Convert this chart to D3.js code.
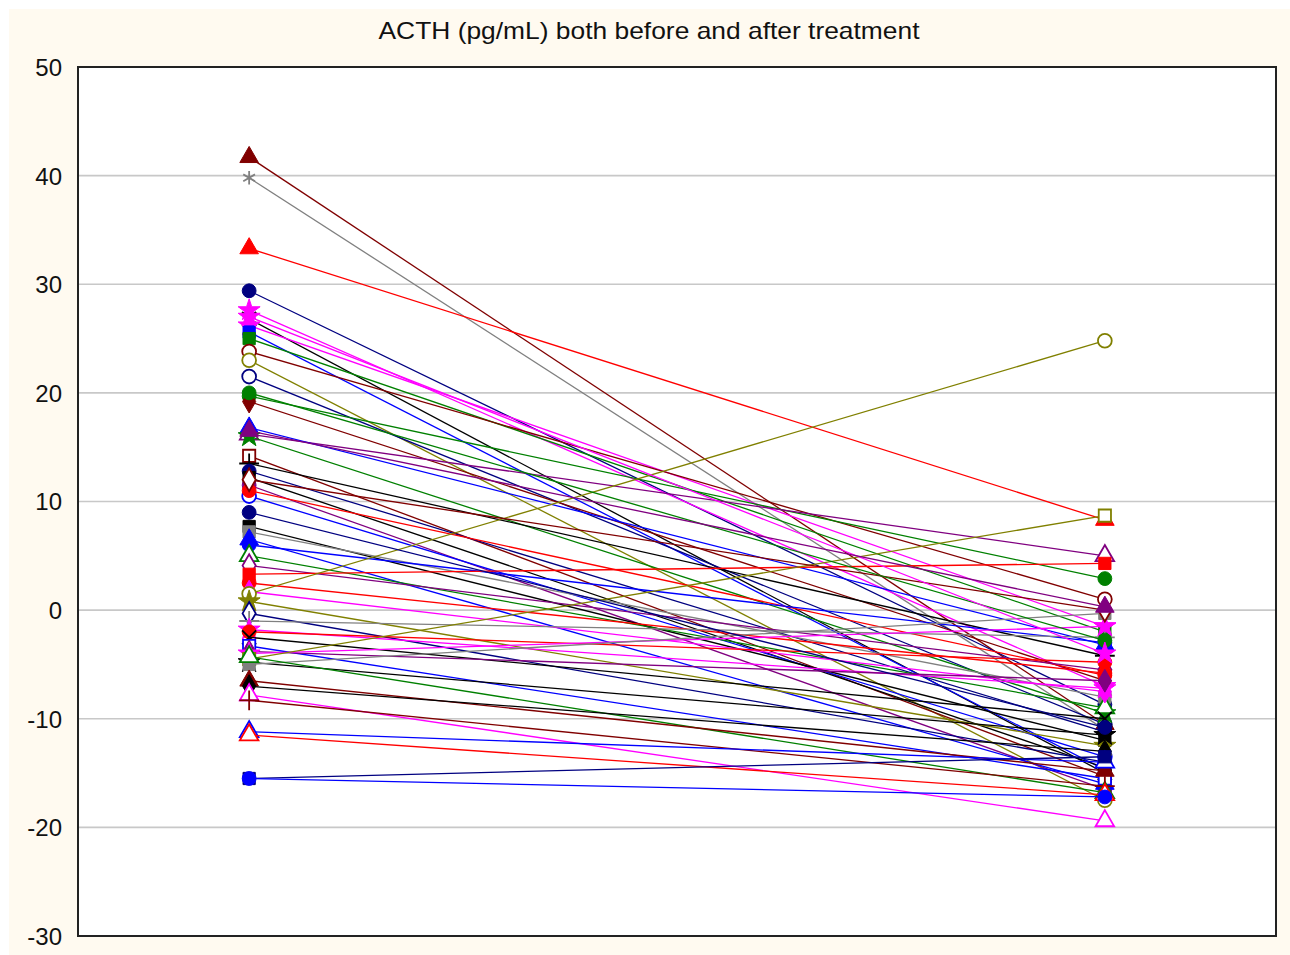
<!DOCTYPE html>
<html>
<head>
<meta charset="utf-8">
<script src="https://cdn.jsdelivr.net/npm/d3@7/dist/d3.min.js"></script>
<style>
  html, body { margin: 0; padding: 0; background: #ffffff; }
  svg { display: block; }
</style>
</head>
<body>
<svg id="chart" width="1290" height="955"></svg>
<script>
// ---------------- DATA ----------------
const title = "ACTH (pg/mL) both before and after treatment";
const categories = ["Before", "After"];
const yTicks = [-30, -20, -10, 0, 10, 20, 30, 40, 50];

// ACTH change per subject (before, after)
const before = [41.7, 39.8, 33.3, 29.4, 27.6, 26.8, 26.2, 25.6, 25.0, 23.8,
                23.0, 21.5, 19.7, 19.2, 16.2, 16.8, 16.0, 14.2, 13.5, 12.8,
                12.2, 11.5, 10.5, 11.0, 7.7, 7.2, 6.5, 6.0, 5.0, 4.1,
                3.3, 2.5, 1.7, 1.5, 0.8, -0.3, -1.0, -1.8, -2.0, -2.5,
                -3.3, -3.8, -4.0, -4.5, -4.8, -5.0, -4.3, -6.5, -7.0, -7.8,
                -8.3, -11.2, -11.5, -15.5, -15.5, 12.0, 20.0, 9.0, 27.0, 16.5];
const after  = [-10.5, -11.0, 8.3, -8.7, -7.0, -15.0, -1.5, -14.7, -2.0, 1.0,
                -17.5, -10.5, 2.9, -6.5, 5.0, -3.2, -9.5, -15.3, -4.2, -11.2,
                -14.5, -16.5, -13.5, -6.0, -12.0, -8.0, -16.0, -3.0, -9.0, -5.5,
                4.3, -5.8, -7.5, 24.8, -12.5, -14.0, -2.5, -7.2, -4.8, -10.0,
                -15.5, -6.5, -1.5, 8.7, -11.5, -0.3, -16.8, -14.8, -13.0, -19.4,
                -16.2, -14.0, -17.0, -13.5, -17.2, 0.0, -2.8, -10.8, -4.0, 0.3];

// ---------------- STYLE ----------------
const palette = ["#800000", "#808080", "#ff0000", "#000080", "#ff00ff", "#000000", "#ff00ff", "#0000ff", "#008000", "#800000",
                 "#808000", "#000080", "#008000", "#800000", "#800080", "#0000ff", "#008000", "#800000", "#000000", "#000080",
                 "#000000", "#800080", "#0000ff", "#ff0000", "#000000", "#808080", "#0000ff", "#0000ff", "#008000", "#800080",
                 "#ff0000", "#ff0000", "#ff00ff", "#808000", "#808000", "#000080", "#808080", "#ff00ff", "#ff0000", "#000000",
                 "#0000ff", "#800080", "#ff00ff", "#808000", "#000000", "#808080", "#008000", "#800000", "#000000", "#ff00ff",
                 "#800000", "#0000ff", "#ff0000", "#000080", "#0000ff", "#800000", "#008000", "#000080", "#ff00ff", "#800080"];
const shapeNames = ["triangle", "asterisk", "triangle", "circle", "star", "times", "star", "square", "square", "circleO",
                    "circleO", "circleO", "circle", "diamond", "triangleO", "triangle", "star", "squareO", "plus", "circle",
                    "square", "circle", "circleO", "circle", "square", "square", "triangle", "circle", "triangleO", "diamondO",
                    "square", "circle", "diamond", "circleO", "star", "diamondO", "plus", "star", "circle", "times",
                    "squareO", "diamond", "star", "squareO", "star", "square", "triangleO", "triangle", "diamond", "triangleO",
                    "plus", "triangleO", "triangleO", "square", "circle", "diamondO", "circle", "circle", "star", "triangle"];

const W = 1290, H = 955;
const plot = { left: 78, right: 1276, top: 67, bottom: 936 };

const svg = d3.select("#chart");

// background panel
svg.append("rect").attr("x", 9).attr("y", 9).attr("width", W - 9).attr("height", H - 9)
   .attr("fill", "#fffaf0");
svg.append("rect").attr("x", plot.left).attr("y", plot.top)
   .attr("width", plot.right - plot.left).attr("height", plot.bottom - plot.top)
   .attr("fill", "#ffffff");

const x = d3.scalePoint().domain(categories).range([plot.left, plot.right]).padding(0.2);
const y = d3.scaleLinear().domain([-30, 50]).range([plot.bottom, plot.top]);

// gridlines
svg.append("g").selectAll("line").data(yTicks.filter(t => t > -30 && t < 50)).join("line")
   .attr("x1", plot.left).attr("x2", plot.right)
   .attr("y1", d => y(d)).attr("y2", d => y(d))
   .attr("stroke", "#c8c8c8").attr("stroke-width", 1.6);

// y axis labels
const yAxis = d3.axisLeft(y).tickValues(yTicks).tickSize(0).tickPadding(16).tickFormat(d => String(d));
const ag = svg.append("g").attr("transform", `translate(${plot.left},0)`).call(yAxis);
ag.select(".domain").remove();
ag.selectAll("text").attr("font-family", "Liberation Sans, Arial, sans-serif")
  .attr("font-size", 24).attr("fill", "#111").attr("dy", "0.35em");

// title
svg.append("text").attr("x", 649).attr("y", 39).attr("text-anchor", "middle")
   .attr("font-family", "Liberation Sans, Arial, sans-serif").attr("font-size", 24)
   .attr("fill", "#111").attr("textLength", 541).attr("lengthAdjust", "spacingAndGlyphs")
   .text(title);

// marker generator
const symMap = {
  triangle: [d3.symbolTriangle, true], triangleO: [d3.symbolTriangle, false],
  circle: [d3.symbolCircle, true], circleO: [d3.symbolCircle, false],
  square: [d3.symbolSquare, true], squareO: [d3.symbolSquare, false],
  diamond: [d3.symbolDiamond, true], diamondO: [d3.symbolDiamond, false],
  star: [d3.symbolStar, true], asterisk: [d3.symbolAsterisk, false],
  plus: [d3.symbolPlus, false], times: [d3.symbolTimes, false]
};

const subjects = before.map((b, i) => ({ b, a: after[i], c: palette[i], s: shapeNames[i] }));

const g = svg.append("g");
subjects.forEach(d => {
  const sg = g.append("g");
  sg.append("line")
    .attr("x1", x("Before")).attr("y1", y(d.b))
    .attr("x2", x("After")).attr("y2", y(d.a))
    .attr("stroke", d.c).attr("stroke-width", 1.3);
  const [type, filled] = symMap[d.s];
  const size = (type === d3.symbolAsterisk || type === d3.symbolPlus || type === d3.symbolTimes) ? 130 : 150;
  const path = d3.symbol().type(type).size(size)();
  [[x("Before"), d.b], [x("After"), d.a]].forEach(([px, v]) => {
    sg.append("path").attr("d", path)
      .attr("transform", `translate(${px},${y(v)})`)
      .attr("fill", filled ? d.c : "#ffffff")
      .attr("stroke", d.c).attr("stroke-width", filled ? 1 : 1.8);
  });
});

// plot border
svg.append("rect").attr("x", plot.left).attr("y", plot.top)
   .attr("width", plot.right - plot.left).attr("height", plot.bottom - plot.top)
   .attr("fill", "none").attr("stroke", "#222").attr("stroke-width", 2);
</script>
</body>
</html>
